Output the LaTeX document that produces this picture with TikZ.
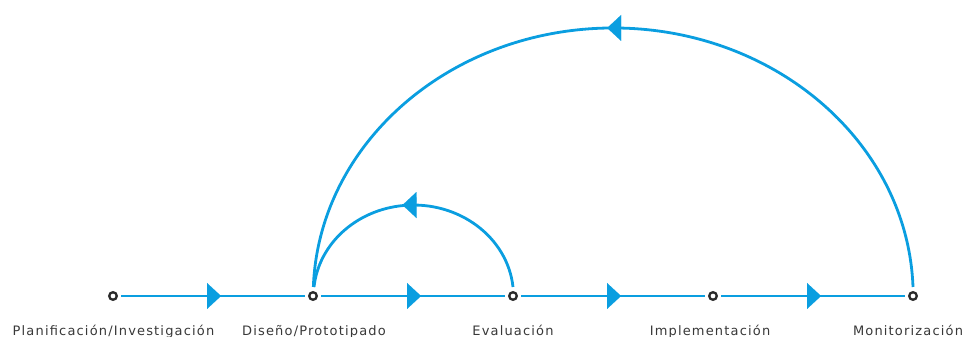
\documentclass[tikz,border=0pt]{standalone}
\usepackage{fontspec}
\setmainfont{DejaVu Sans}[LetterSpace=9]
\usetikzlibrary{arrows.meta,decorations.markings}
\definecolor{flowblue}{HTML}{0A9EE0}
\definecolor{ringgray}{HTML}{2A2A2A}
\definecolor{txtgray}{HTML}{383838}
\begin{document}
\begin{tikzpicture}[x=1pt,y=1pt,
  stage/.style={circle,draw=ringgray,line width=2.3pt,fill=white,minimum size=7.6pt,inner sep=0pt,outer sep=0pt},
  lbl/.style={anchor=base,text=txtgray,font=\fontsize{13}{15}\selectfont,inner sep=0pt},
  flow/.style={draw=flowblue,line width=2.8pt,postaction={decorate},
    decoration={markings,mark=at position 0.5 with {\arrow[flowblue,xshift=#1]{Triangle[length=14pt,width=26pt,line width=0.01pt]}}}},
  flow/.default=8pt,
  seg/.style={flow,shorten <=4.5pt,shorten >=4.5pt},
]
\useasboundingbox (0,0) rectangle (970,337);

\node[stage] (p) at (113,41) {};
\node[stage] (d) at (313,41) {};
\node[stage] (e) at (513,41) {};
\node[stage] (i) at (713,41) {};
\node[stage] (m) at (913,41) {};

\draw[seg] (p) -- (d);
\draw[seg] (d) -- (e);
\draw[seg] (e) -- (i);
\draw[seg] (i) -- (m);

\draw[flow=11pt] ([yshift=9pt]e.center) arc[start angle=5.7, end angle=174.3, x radius=100, y radius=91];
\draw[flow=6pt] ([yshift=9pt]m.center) arc[start angle=1.92, end angle=178.08, x radius=300, y radius=268];

\node[lbl] (tp) at (113.5,1) {Planificación/Investigación};
\node[lbl] (td) at (314,1) {Diseño/Prototipado};
\node[lbl] (te) at (513,1) {Evaluación};
\node[lbl] (ti) at (710,1) {Implementación};
\node[lbl] (tm) at (908,1) {Monitorización};
\end{tikzpicture}
\end{document}
